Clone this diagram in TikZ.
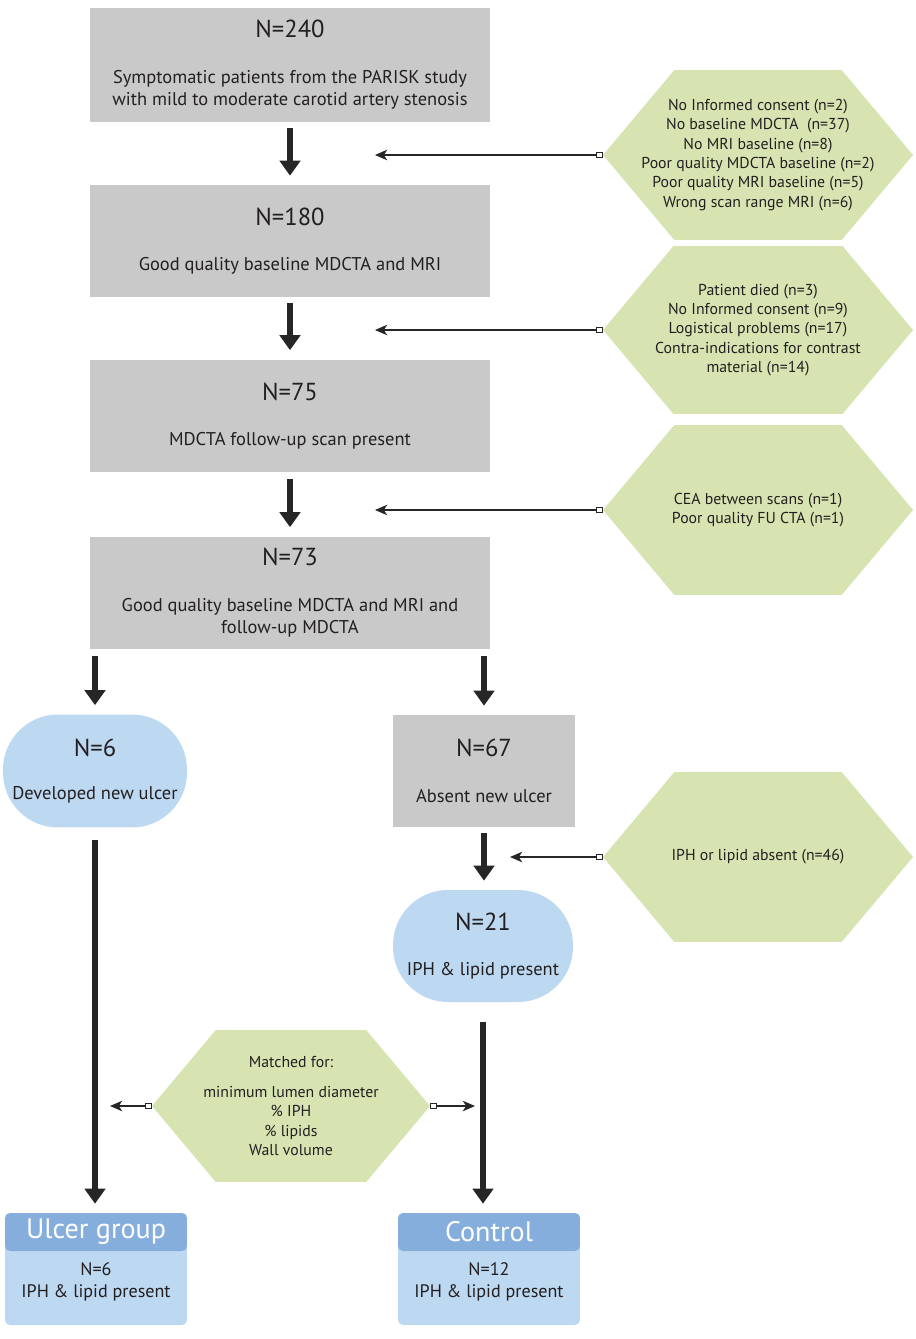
\documentclass[tikz,border=0pt]{standalone}
\usepackage{fontspec}
\setmainfont{PT Sans}
\usetikzlibrary{positioning}
\usetikzlibrary{arrows.meta, shapes.symbols}

\definecolor{boxgray}{HTML}{C9C9C9}
\definecolor{hexgreen}{HTML}{D7E4B2}
\definecolor{ovalblue}{HTML}{BDD8F1}
\definecolor{headblue}{HTML}{86AEDC}
\definecolor{inkgray}{HTML}{231F20}

\newcommand\nn[1]{{\fontsize{14}{16}\selectfont #1}}

\tikzset{
  graybox/.style={fill=boxgray, align=center, text=inkgray, inner sep=0pt,
    font=\fontsize{10.5}{12.8}\selectfont},
  ovalbox/.style={fill=ovalblue, rounded corners=1.1cm, align=center, text=inkgray,
    inner sep=0pt, font=\fontsize{10.5}{12.8}\selectfont},
  hexbox/.style={signal, signal to=west and east, signal pointer angle=100,
    fill=hexgreen, inner sep=0pt},
  hextext/.style={align=center, text=inkgray, inner sep=0pt,
    font=\fontsize{9}{11}\selectfont},
  grpbody/.style={fill=ovalblue, rounded corners=0.1cm, minimum width=3.64cm,
    minimum height=2.24cm, inner sep=0pt},
  grphead/.style={fill=headblue, rounded corners=0.1cm, minimum width=3.64cm,
    minimum height=0.76cm, inner sep=0pt, text=white, anchor=north,
    font=\fontsize{16}{18}\selectfont},
  grptext/.style={align=center, text=inkgray, font=\fontsize{10.3}{12.5}\selectfont},
  flow/.style={line width=3.4pt, draw=black!85, shorten <=0.12cm, shorten >=0.18cm,
    -{Triangle[width=11.5pt,length=8.5pt]}},
  side/.style={line width=0.7pt, draw=black!85,
    {Square[open,length=3.5pt,width=3.5pt,line width=0.6pt]}-{Stealth[length=7pt,width=6pt,inset=2pt]}}
}

\begin{document}
\begin{tikzpicture}[x=0.02cm, y=-0.02cm]
\useasboundingbox[fill=white] (0,0) rectangle (916,1339);

% main column
\node[graybox, minimum width=8cm, minimum height=2.28cm] (b1) at (290,65)
  {\nn{N=240}\\[13pt]Symptomatic patients from the PARISK study\\with mild to moderate carotid artery stenosis};
\node[graybox, minimum width=8cm, minimum height=2.24cm] (b2) at (290,241)
  {\nn{N=180}\\[13pt]Good quality baseline MDCTA and MRI};
\node[graybox, minimum width=8cm, minimum height=2.26cm] (b3) at (290,416)
  {\nn{N=75}\\[13pt]MDCTA follow-up scan present};
\node[graybox, minimum width=8cm, minimum height=2.26cm] (b4) at (290,593)
  {\nn{N=73}\\[13pt]Good quality baseline MDCTA and MRI and\\follow-up MDCTA};

% exclusions
\node[hexbox, minimum width=6.2cm, minimum height=3.4cm] (h1) at (758,155) {};
\node[hextext] (h1t) at (h1) {No Informed consent (n=2)\\No baseline MDCTA \ (n=37)\\No MRI baseline (n=8)\\
   Poor quality MDCTA baseline (n=2)\\Poor quality MRI baseline (n=5)\\Wrong scan range MRI (n=6)};
\node[hexbox, minimum width=6.2cm, minimum height=3.36cm] (h2) at (758,330) {};
\node[hextext] (h2t) at (h2) {Patient died (n=3)\\No Informed consent (n=9)\\Logistical problems (n=17)\\
   Contra-indications for contrast\\material (n=14)};
\node[hexbox, minimum width=6.2cm, minimum height=3.4cm] (h3) at (758,510) {};
\node[hextext] (h3t) at (h3) {CEA between scans (n=1)\\Poor quality FU CTA (n=1)};
\node[hexbox, minimum width=6.2cm, minimum height=3.4cm] (h4) at (758,857) {};
\node[hextext] (h4t) at (h4) {IPH or lipid absent (n=46)};

% split
\node[ovalbox, minimum width=3.68cm, minimum height=2.26cm] (o6) at (95,771)
  {\nn{N=6}\\[12pt]Developed new ulcer};
\node[graybox, minimum width=3.64cm, minimum height=2.24cm] (b67) at (484,771)
  {\nn{N=67}\\[13pt]Absent new ulcer};
\node[ovalbox, minimum width=3.6cm, minimum height=2.24cm] (o21) at (483,946)
  {\nn{N=21}\\[13pt]IPH \& lipid present};

\node[hexbox, minimum width=5.56cm, minimum height=3.04cm] (h5) at (291,1106) {};
\node[hextext] (h5t) at (h5) {Matched for:\\[6pt]minimum lumen diameter\\\% IPH\\\% lipids\\Wall volume};

% groups
\node[grpbody] (ub) at (96,1269) {};
\node[grphead] (ug) at (ub.north) {Ulcer group};
\node[grptext] (ut) at (96,1282) {N=6\\IPH \& lipid present};
\node[grpbody] (cb) at (489,1269) {};
\node[grphead] (cg) at (cb.north) {Control};
\node[grptext] (ctx) at (489,1282) {N=12\\IPH \& lipid present};

% free ends of the side arrows
\coordinate (e1) at (375,155);
\coordinate (e2) at (375,330);
\coordinate (e3) at (375,510);
\coordinate (e4) at (510,857);
\coordinate (e5) at (110,1106);
\coordinate (e6) at (475,1106);

\draw[flow] (b1) -- (b2);
\draw[flow] (b2) -- (b3);
\draw[flow] (b3) -- (b4);
\draw[flow] (b4.south -| o6) -- (o6);
\draw[flow] (b4.south -| b67) -- (b67);
\draw[flow] (b67) -- (b67.south |- o21.north);
\draw[flow, shorten <=0.24cm] (o6) -- (o6.south |- ug.north);
\draw[flow, shorten <=0.4cm] (o21) -- (o21.south |- cg.north);

\draw[side] (h1.west) -- (e1);
\draw[side] (h2.west) -- (e2);
\draw[side] (h3.west) -- (e3);
\draw[side] (h4.west) -- (e4);
\draw[side] (h5.west) -- (e5);
\draw[side] (h5.east) -- (e6);

\end{tikzpicture}
\end{document}
